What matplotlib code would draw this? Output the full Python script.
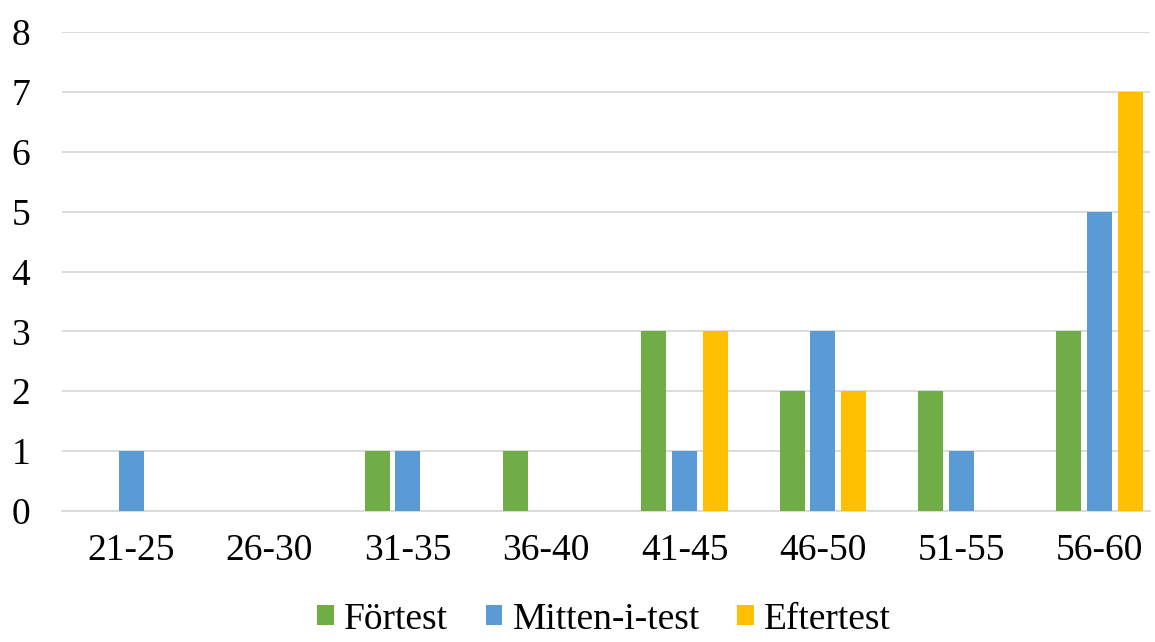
import matplotlib.pyplot as plt
import numpy as np

plt.rcParams['font.family'] = ['Liberation Serif', 'DejaVu Serif']

# poängintervall och antal elever per test
kategorier = ['21-25', '26-30', '31-35', '36-40', '41-45', '46-50', '51-55', '56-60']
fortest = [0, 0, 1, 1, 3, 2, 2, 3]
mitten = [1, 0, 1, 0, 1, 3, 1, 5]
eftertest = [0, 0, 0, 0, 3, 2, 0, 7]

fig = plt.figure(figsize=(11.55, 6.42), dpi=100)
ax = fig.add_axes([62 / 1155, 1 - 511 / 642, (1150 - 62) / 1155, (511 - 32) / 642])

x = np.arange(len(kategorier))
b = 0.18
steg = 0.222
ax.bar(x - steg, fortest, b, color='#70AD47', label='Förtest', zorder=3)
ax.bar(x, mitten, b, color='#5B9BD5', label='Mitten-i-test', zorder=3)
ax.bar(x + steg, eftertest, b, color='#FFC000', label='Eftertest', zorder=3)

ax.set_xlim(-0.5, 7.365)
ax.set_ylim(0, 8)
ax.set_yticks(range(0, 9))
ax.set_xticks(x)
ax.set_xticklabels(kategorier)
ax.grid(axis='y', color='#D9D9D9', linewidth=1.3, zorder=0)
for s in ['top', 'right', 'left']:
    ax.spines[s].set_visible(False)
ax.spines['bottom'].set_color('#D9D9D9')
ax.spines['bottom'].set_linewidth(1.3)
ax.tick_params(axis='both', length=0, labelsize=27)
ax.tick_params(axis='x', pad=16)
ax.tick_params(axis='y', pad=23)

fig.legend(loc='center', ncol=3, frameon=False, fontsize=27,
           bbox_to_anchor=(0.523, 0.035), handlelength=0.45, handleheight=0.45,
           handletextpad=0.27, columnspacing=1.0, borderpad=0)

fig.savefig('out.png', dpi=100)
